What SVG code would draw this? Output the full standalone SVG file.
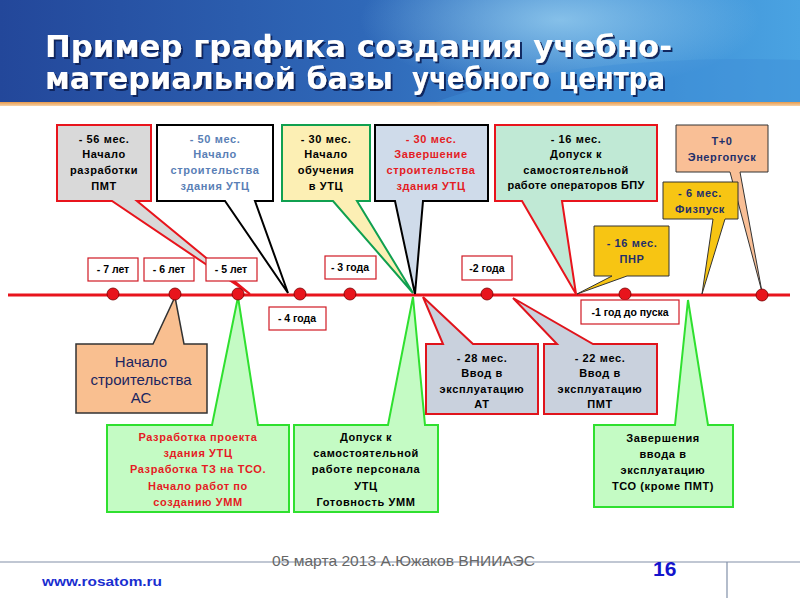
<svg xmlns="http://www.w3.org/2000/svg" width="800" height="600" viewBox="0 0 800 600">
<defs>
<linearGradient id="hdr" x1="0" y1="0" x2="1" y2="0">
<stop offset="0" stop-color="#23479a"/>
<stop offset="0.45" stop-color="#2f68b8"/>
<stop offset="0.75" stop-color="#3c8ad2"/>
<stop offset="1" stop-color="#4aa3e2"/>
</linearGradient>
<radialGradient id="glow" cx="0.5" cy="0.5" r="0.5">
<stop offset="0" stop-color="#9fd4f2" stop-opacity="0.75"/>
<stop offset="1" stop-color="#9fd4f2" stop-opacity="0"/>
</radialGradient>
<linearGradient id="orange" x1="0" y1="0" x2="0" y2="1">
<stop offset="0" stop-color="#e79a4c"/>
<stop offset="1" stop-color="#f6d2a8"/>
</linearGradient>
<filter id="shadow" x="-5%" y="-20%" width="110%" height="140%">
<feDropShadow dx="2" dy="2" stdDeviation="0.6" flood-color="#10205a" flood-opacity="0.95"/>
</filter>
</defs>
<style>
.t{font-family:"Liberation Sans",Arial,sans-serif;font-weight:bold;font-size:11px;letter-spacing:0.6px;text-anchor:middle}
.y{font-family:"Liberation Sans",Arial,sans-serif;font-weight:bold;font-size:10.5px;text-anchor:middle;fill:#000}
.yl{fill:#fff;stroke:#d01a24;stroke-width:1.2}
.title{font-family:"DejaVu Sans",Verdana,sans-serif;font-weight:bold;font-size:30px;fill:#ffffff}
.grn{fill:#c4fbc4;stroke:#2fe02f;stroke-width:2}
.gry{fill:#c9d1dd;stroke:#e0141c;stroke-width:2}
</style>

<rect x="0" y="0" width="800" height="104" fill="url(#hdr)"/>
<ellipse cx="560" cy="20" rx="200" ry="70" fill="url(#glow)"/>
<path d="M430,104 C520,70 650,55 800,60 L800,104 Z" fill="#3f8fd6" opacity="0.45"/>
<rect x="0" y="102" width="800" height="4" fill="url(#orange)"/>

<g id="title" filter="url(#shadow)">
<text class="title" x="45" y="57" textLength="627" lengthAdjust="spacingAndGlyphs">Пример графика создания учебно-</text>
<text class="title" x="45" y="89" textLength="348" lengthAdjust="spacingAndGlyphs">материальной базы</text>
<text class="title" x="412" y="89" textLength="253" lengthAdjust="spacingAndGlyphs">учебного центра</text>
</g>

<g id="connectors">
<line x1="8" y1="295" x2="790" y2="295" stroke="#e8141c" stroke-width="3"/>
</g>

<g id="c56">
<path d="M57,125 H151 V201 H137 L250,294 L112,201 H57 Z" fill="#d9d9d9" stroke="#e8141c" stroke-width="2"/>
<text class="t" fill="#000"><tspan x="104" y="143">- 56 мес.</tspan><tspan x="104" y="158">Начало</tspan><tspan x="104" y="174">разработки</tspan><tspan x="104" y="190">ПМТ</tspan></text>
</g>
<g id="c50">
<path d="M157,125 H273 V201 H255 L288,293 L225,201 H157 Z" fill="#ffffff" stroke="#000" stroke-width="2"/>
<text class="t" fill="#5a7fb6"><tspan x="215" y="143">- 50 мес.</tspan><tspan x="215" y="158">Начало</tspan><tspan x="215" y="174">строительства</tspan><tspan x="215" y="190">здания УТЦ</tspan></text>
</g>
<g id="c30a">
<path d="M282,125 H370 V201 H357 L413,293 L333,201 H282 Z" fill="#fcefb4" stroke="#10a050" stroke-width="2"/>
<text class="t" fill="#000"><tspan x="326" y="143">- 30 мес.</tspan><tspan x="326" y="158">Начало</tspan><tspan x="326" y="174">обучения</tspan><tspan x="326" y="190">в УТЦ</tspan></text>
</g>
<g id="c30b">
<path d="M375,125 H488 V201 H423 L415,294 L395,201 H375 Z" fill="#cfdbea" stroke="#000" stroke-width="2"/>
<text class="t" fill="#e41c24"><tspan x="431" y="143">- 30 мес.</tspan><tspan x="431" y="158">Завершение</tspan><tspan x="431" y="174">строительства</tspan><tspan x="431" y="190">здания УТЦ</tspan></text>
</g>
<g id="c16a">
<path d="M495,125 H657 V201 H562 L576,294 L522,201 H495 Z" fill="#c0e9d5" stroke="#e8141c" stroke-width="2"/>
<text class="t" fill="#000"><tspan x="576" y="143">- 16 мес.</tspan><tspan x="576" y="158">Допуск к</tspan><tspan x="576" y="174">самостоятельной</tspan><tspan x="576" y="189" letter-spacing="0.3">работе операторов БПУ</tspan></text>
</g>
<g id="c16b">
<path d="M594,226 H669 V276 H627 L577,294 L612,276 H594 Z" fill="#f7c513" stroke="#333" stroke-width="1"/>
<text class="t" fill="#1f2f6a"><tspan x="632" y="247">- 16 мес.</tspan><tspan x="632" y="263">ПНР</tspan></text>
</g>
<g id="cT0">
<path d="M676,125 H768 V172 H740 L762,292 L730,172 H676 Z" fill="#f9bf96" stroke="#333" stroke-width="1"/>
<text class="t" fill="#1f2f6a"><tspan x="722" y="145">Т+0</tspan><tspan x="722" y="161">Энергопуск</tspan></text>
</g>
<g id="c6">
<path d="M663,182 H738 V219 H725 L702,294 L713,219 H663 Z" fill="#f7c513" stroke="#333" stroke-width="1"/>
<text class="t" fill="#1f2f6a"><tspan x="700" y="197">- 6 мес.</tspan><tspan x="700" y="213">Физпуск</tspan></text>
</g>

<g id="cAC">
<path d="M76,413 V344 H153 L175,297 L184,344 H207 V413 Z" fill="#f9bf90" stroke="#333" stroke-width="1.5"/>
<text font-family="Liberation Sans,Arial,sans-serif" font-size="15" fill="#1b2560" text-anchor="middle"><tspan x="141" y="367">Начало</tspan><tspan x="141" y="385">строительства</tspan><tspan x="141" y="403">АС</tspan></text>
</g>
<g id="cG1">
<path class="grn" d="M107,512 V425 H212 L238,297 L258,425 H289 V512 Z"/>
<text class="t" fill="#e41c24"><tspan x="198" y="441">Разработка проекта</tspan><tspan x="198" y="457">здания УТЦ</tspan><tspan x="198" y="473">Разработка ТЗ на ТСО.</tspan><tspan x="198" y="490">Начало работ по</tspan><tspan x="198" y="506">созданию УММ</tspan></text>
</g>
<g id="cG2">
<path class="grn" d="M294,512 V425 H388 L413,297 L425,425 H438 V512 Z"/>
<text class="t" fill="#000"><tspan x="366" y="441">Допуск к</tspan><tspan x="366" y="457">самостоятельной</tspan><tspan x="366" y="473">работе персонала</tspan><tspan x="366" y="490">УТЦ</tspan><tspan x="366" y="506">Готовность УММ</tspan></text>
</g>
<g id="cAT">
<path class="gry" d="M426,414 V344 H443 L423,297 L473,344 H538 V414 Z"/>
<text class="t" fill="#000"><tspan x="482" y="362">- 28 мес.</tspan><tspan x="482" y="377">Ввод в</tspan><tspan x="482" y="393">эксплуатацию</tspan><tspan x="482" y="408">АТ</tspan></text>
</g>
<g id="cPMT">
<path class="gry" d="M544,414 V344 H557 L513,298 L593,344 H657 V414 Z"/>
<text class="t" fill="#000"><tspan x="600" y="362">- 22 мес.</tspan><tspan x="600" y="377">Ввод в</tspan><tspan x="600" y="393">эксплуатацию</tspan><tspan x="600" y="408">ПМТ</tspan></text>
</g>
<g id="cG3">
<path class="grn" d="M594,507 V425 H675 L688,300 L708,425 H733 V507 Z"/>
<text class="t" fill="#000"><tspan x="663" y="442">Завершения</tspan><tspan x="663" y="458">ввода в</tspan><tspan x="663" y="474">эксплуатацию</tspan><tspan x="663" y="490">ТСО (кроме ПМТ)</tspan></text>
</g>

<g id="dots" fill="#e8141c" stroke="#700" stroke-width="0.8">
<circle cx="113" cy="294" r="6"/>
<circle cx="175" cy="294" r="6"/>
<circle cx="238" cy="294" r="6"/>
<circle cx="300" cy="294" r="6"/>
<circle cx="350" cy="294" r="6"/>
<circle cx="487" cy="294" r="6"/>
<circle cx="625" cy="294" r="6"/>
<circle cx="762" cy="295" r="6"/>
</g>

<g id="years">
<rect class="yl" x="88" y="258" width="50" height="23"/><text class="y" x="113" y="273">- 7 лет</text>
<rect class="yl" x="144" y="258" width="50" height="23"/><text class="y" x="169" y="273">- 6 лет</text>
<rect class="yl" x="206" y="258" width="51" height="23"/><text class="y" x="231" y="273">- 5 лет</text>
<rect class="yl" x="325" y="256" width="51" height="23"/><text class="y" x="350" y="271">- 3 года</text>
<rect class="yl" x="269" y="307" width="57" height="23"/><text class="y" x="297" y="322">- 4 года</text>
<rect class="yl" x="462" y="256" width="50" height="24"/><text class="y" x="487" y="272">-2 года</text>
<rect class="yl" x="581" y="300" width="98" height="24"/><text class="y" x="630" y="316">-1 год до пуска</text>
</g>

<g id="footer">
<line x1="0" y1="562" x2="800" y2="562" stroke="#8190a8" stroke-width="1.2"/>
<line x1="727" y1="562" x2="727" y2="598" stroke="#8190a8" stroke-width="1.2"/>
<text x="272" y="566" font-family="Liberation Sans,Arial,sans-serif" font-size="15" fill="#666666" textLength="263" lengthAdjust="spacingAndGlyphs">05 марта 2013  А.Южаков ВНИИАЭС</text>
<text x="653" y="576" font-family="Liberation Sans,Arial,sans-serif" font-size="21" font-weight="bold" fill="#1414cc">16</text>
<text x="42" y="586" font-family="Liberation Sans,Arial,sans-serif" font-size="13" font-weight="bold" fill="#1a2ed0" textLength="120" lengthAdjust="spacingAndGlyphs">www.rosatom.ru</text>
</g>
</svg>
